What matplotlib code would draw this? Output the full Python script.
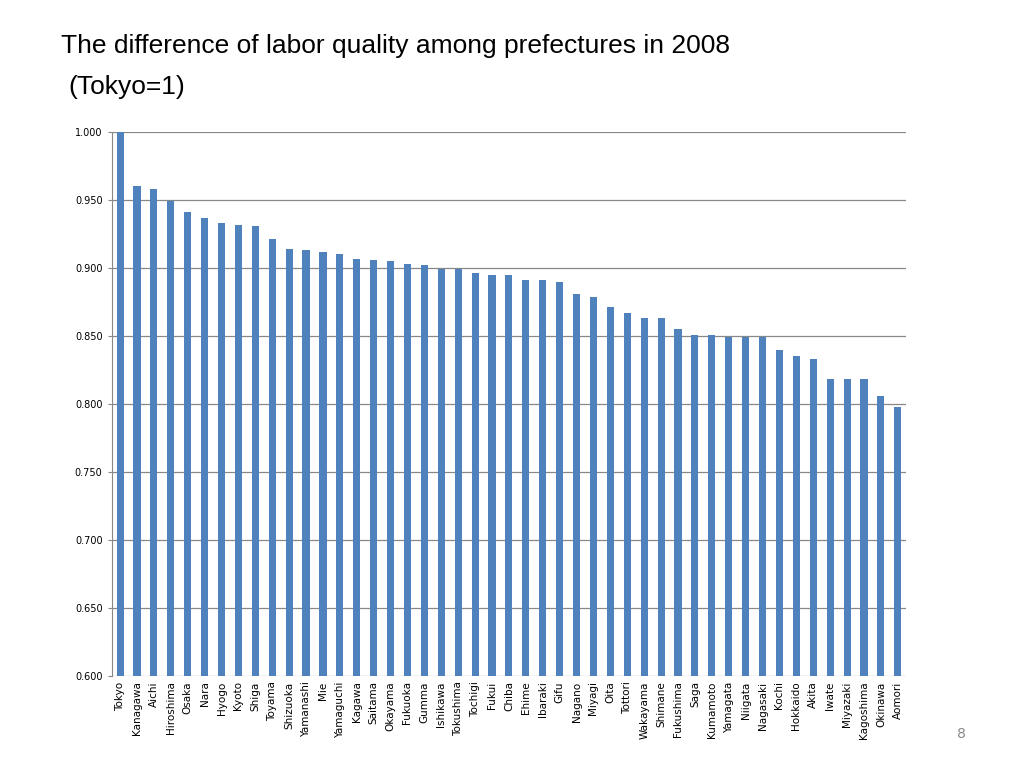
import matplotlib.pyplot as plt
import numpy as np

prefectures = ['Tokyo', 'Kanagawa', 'Aichi', 'Hiroshima', 'Osaka', 'Nara', 'Hyogo', 'Kyoto',
               'Shiga', 'Toyama', 'Shizuoka', 'Yamanashi', 'Mie', 'Yamaguchi', 'Kagawa',
               'Saitama', 'Okayama', 'Fukuoka', 'Gumma', 'Ishikawa', 'Tokushima', 'Tochigi',
               'Fukui', 'Chiba', 'Ehime', 'Ibaraki', 'Gifu', 'Nagano', 'Miyagi', 'Oita',
               'Tottori', 'Wakayama', 'Shimane', 'Fukushima', 'Saga', 'Kumamoto', 'Yamagata',
               'Niigata', 'Nagasaki', 'Kochi', 'Hokkaido', 'Akita', 'Iwate', 'Miyazaki',
               'Kagoshima', 'Okinawa', 'Aomori']
quality = [1.000, 0.960, 0.958, 0.949, 0.941, 0.937, 0.933, 0.932, 0.931, 0.921, 0.914,
           0.913, 0.912, 0.910, 0.907, 0.906, 0.905, 0.903, 0.902, 0.899, 0.899, 0.896,
           0.895, 0.895, 0.891, 0.891, 0.890, 0.881, 0.879, 0.871, 0.867, 0.863, 0.863,
           0.855, 0.851, 0.851, 0.849, 0.849, 0.849, 0.840, 0.835, 0.833, 0.818, 0.818,
           0.818, 0.806, 0.798]
y_ticks = [0.600, 0.650, 0.700, 0.750, 0.800, 0.850, 0.900, 0.950, 1.000]

fig = plt.figure(figsize=(10.24, 7.68), dpi=100)
ax = fig.add_axes([0.109, 0.12, 0.776, 0.708])

x = np.arange(len(prefectures))
ax.bar(x, quality, width=0.42, color='#4F81BD', zorder=3)
ax.set_xlim(-0.5, len(prefectures) - 0.5)
ax.set_ylim(0.6, 1.0)
ax.set_yticks(y_ticks)
ax.set_yticklabels([f'{v:.3f}' for v in y_ticks], fontsize=7)
ax.set_xticks(x)
ax.set_xticklabels(prefectures, rotation=90, fontsize=7.5)
ax.tick_params(axis='x', length=0, pad=4)
ax.tick_params(axis='y', length=3, color='#888888')
ax.grid(axis='y', color='#888888', linewidth=0.9, zorder=0)
for s in ['top', 'right', 'bottom']:
    ax.spines[s].set_visible(False)
ax.spines['left'].set_color('#888888')

fig.text(0.06, 0.94, 'The difference of labor quality among prefectures in 2008',
         fontsize=19, family='Liberation Sans', va='center')
fig.text(0.067, 0.887, '(Tokyo=1)', fontsize=19, family='Liberation Sans', va='center')
fig.text(0.935, 0.044, '8', fontsize=10, color='#888888', va='center')

fig.savefig('out.png', dpi=100)
